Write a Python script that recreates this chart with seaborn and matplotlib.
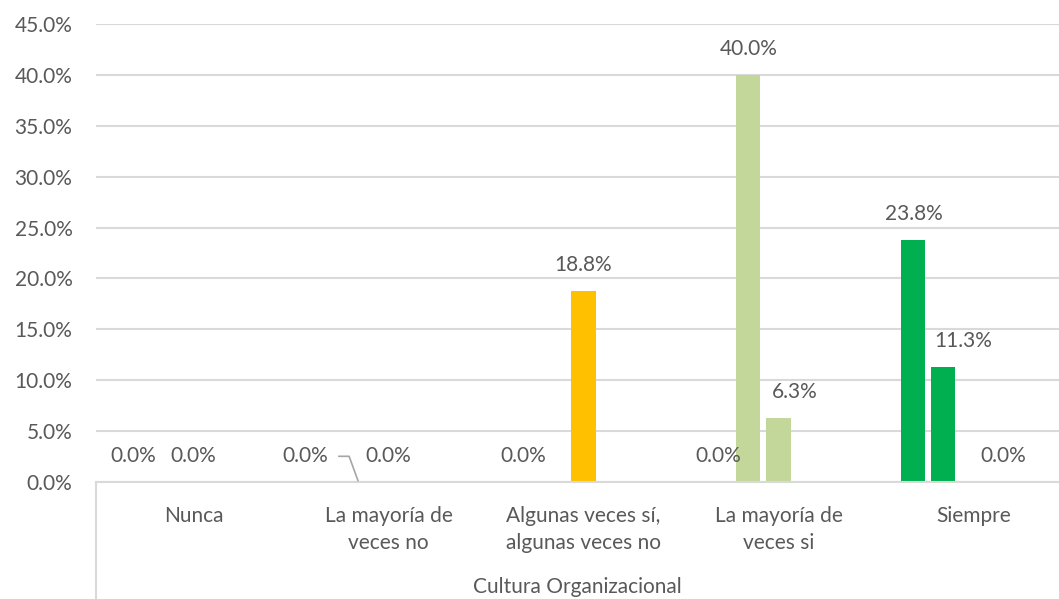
import numpy as np
import pandas as pd
import matplotlib
matplotlib.use("Agg")
import matplotlib.pyplot as plt
from matplotlib.lines import Line2D
import seaborn as sns

nan = np.nan
categories = ["Nunca", "La mayoría de\nveces no", "Algunas veces sí,\nalgunas veces no",
              "La mayoría de\nveces si", "Siempre"]
series = ["S1", "S2", "S3", "S4", "S5"]
s1 = [0.0, nan, 0.0, 0.0, 23.8]
s2 = [nan, 0.0, nan, 40.0, 11.3]
s3 = [0.0, 0.0, 18.8, 6.3, nan]
s4 = [nan, nan, nan, nan, 0.0]
s5 = [nan, nan, nan, nan, nan]
cat_colors = ["#4472C4", "#ED7D31", "#FFC000", "#C4D79B", "#00B050"]
yticks = [0, 5, 10, 15, 20, 25, 30, 35, 40, 45]

rows = []
for sname, vals in zip(series, [s1, s2, s3, s4, s5]):
    for c, v in zip(categories, vals):
        rows.append({"cat": c, "serie": sname, "val": v})
df = pd.DataFrame(rows).dropna()

sns.set_theme(style="white")
plt.rcParams["font.family"] = ["Lato", "DejaVu Sans"]
TXT = "#595959"

fig = plt.figure(figsize=(10.59, 5.99), dpi=100)
ax = fig.add_axes([96 / 1059, 117 / 599, 975 / 1059, 458 / 599])

sns.barplot(data=df, x="cat", y="val", hue="serie", order=categories, hue_order=series,
            width=0.77, gap=0.2, dodge=True, legend=False, ax=ax, errorbar=None,
            saturation=1)

# label x-shifts (points) where the original labels were nudged aside
label_shift = {(3, "S3"): 12, (4, "S2"): 14}

for cont, sname in zip(ax.containers, series):
    for bar in cont:
        xc = bar.get_x() + bar.get_width() / 2
        ci = int(round(xc))
        bar.set_facecolor(cat_colors[ci])
        bar.set_edgecolor("none")
        h = bar.get_height()
        if np.isnan(h):
            continue
        txt = f"{h:.1f}%"
        if ci == 1 and sname == "S2":
            ax.annotate(txt, xy=(xc, 0), xytext=(-38, 18.5), textcoords="offset points",
                        ha="center", va="center", fontsize=15, color=TXT,
                        arrowprops=dict(arrowstyle="-", color="#A6A6A6", lw=1.2,
                                        connectionstyle="angle,angleA=0,angleB=110,rad=0",
                                        shrinkA=5, shrinkB=1))
        else:
            dx = label_shift.get((ci, sname), 0)
            ax.annotate(txt, xy=(xc, h), xytext=(dx, 18.5), textcoords="offset points",
                        ha="center", va="center", fontsize=15, color=TXT)

ax.set_ylim(0, 45)
ax.set_xlim(-0.5, 4.5)
ax.set_yticks(yticks)
ax.set_yticklabels([f"{t:.1f}%" for t in yticks])
ax.yaxis.grid(True, color="#D9D9D9", lw=1.5)
ax.set_axisbelow(True)
for s in ["top", "right", "left"]:
    ax.spines[s].set_visible(False)
ax.spines["bottom"].set_color("#D9D9D9")
ax.spines["bottom"].set_linewidth(1.5)
ax.tick_params(axis="y", length=0, pad=17, labelsize=15, labelcolor=TXT)
ax.tick_params(axis="x", length=0, pad=17, labelsize=15, labelcolor=TXT)
for lab in ax.get_xticklabels():
    lab.set_linespacing(1.45)
ax.set_xlabel("")
ax.set_ylabel("")

# outer category axis
fig.add_artist(Line2D([96 / 1059, 96 / 1059], [0, 117 / 599], transform=fig.transFigure,
                      color="#D9D9D9", lw=1.5))
fig.text(577 / 1059, 1 - 587 / 599, "Cultura Organizacional", ha="center", va="center",
         fontsize=15, color=TXT)

fig.savefig("out.png", dpi=100)
